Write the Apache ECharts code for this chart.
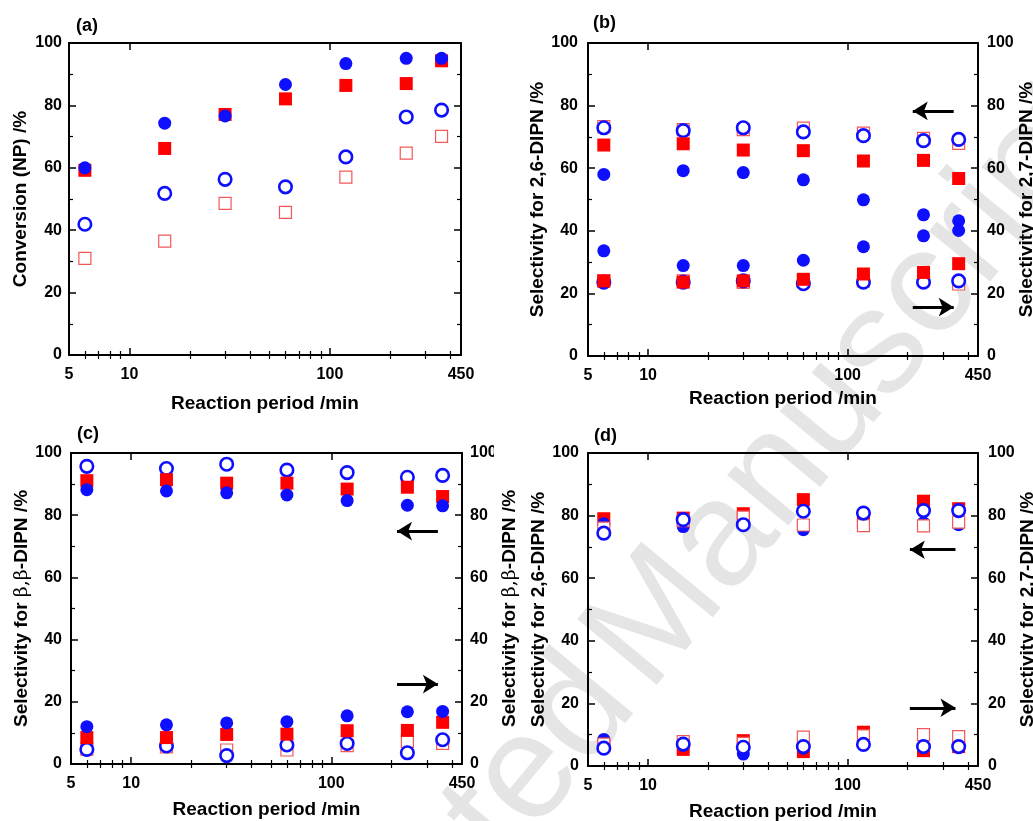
<!DOCTYPE html>
<html>
<head>
<meta charset="utf-8">
<script src="https://cdn.jsdelivr.net/npm/echarts@6/dist/echarts.min.js"></script>
<style>
html,body{margin:0;padding:0;background:#fff;}
#chart{width:1033px;height:821px;}
</style>
</head>
<body>
<div id="chart"></div>
<script>
// ---------- data ----------
const times = [6, 15, 30, 60, 120, 240, 360];           // reaction period /min
const xLabelValues = [5, 10, 100, 450];
const xMajorTicks = [10, 100];
const xMinorTicks = [6, 7, 8, 9, 20, 30, 40, 50, 60, 70, 80, 90, 200, 300, 400];

// (a) Conversion (NP) /%
const aFilledRed  = [59.2, 66.2, 77.1, 82.1, 86.4, 87.0, 94.3];
const aFilledBlue = [60.0, 74.3, 76.6, 86.7, 93.4, 95.1, 95.1];
const aOpenRed    = [31.0, 36.5, 48.6, 45.7, 57.0, 64.7, 70.1];
const aOpenBlue   = [41.9, 51.8, 56.3, 53.9, 63.5, 76.3, 78.5];

// (b) 2,6-DIPN (left axis) and 2,7-DIPN (right axis)
const b26FilledRed  = [67.4, 67.8, 65.8, 65.6, 62.3, 62.5, 56.7];
const b26FilledBlue = [58.0, 59.2, 58.6, 56.3, 49.9, 45.1, 43.2];
const b26OpenRed    = [73.3, 72.3, 72.3, 72.8, 71.2, 69.5, 67.9];
const b26OpenBlue   = [72.9, 72.0, 72.9, 71.6, 70.4, 68.8, 69.2];
const b27FilledRed  = [24.0, 23.6, 24.0, 24.5, 26.2, 26.7, 29.5];
const b27FilledBlue = [33.6, 28.9, 28.9, 30.6, 34.9, 38.4, 40.1];
const b27OpenRed    = [24.0, 24.0, 23.5, 24.0, 24.0, 24.3, 23.0];
const b27OpenBlue   = [23.6, 23.6, 24.0, 23.1, 23.6, 23.6, 24.0];

// (c) beta,beta-DIPN (left axis) and the rest (right axis)
const cBBFilledRed  = [91.1, 91.4, 90.3, 90.3, 88.4, 89.0, 86.0];
const cBBFilledBlue = [88.2, 87.8, 87.2, 86.5, 84.7, 83.2, 83.0];
const cBBOpenBlue   = [95.7, 95.0, 96.4, 94.5, 93.7, 92.2, 92.8];
const cRFilledRed   = [8.5, 8.5, 9.5, 9.6, 10.7, 10.8, 13.4];
const cRFilledBlue  = [12.0, 12.6, 13.2, 13.6, 15.5, 16.8, 16.9];
const cROpenRed     = [4.8, 5.5, 4.5, 4.5, 5.9, 7.3, 6.6];
const cROpenBlue    = [4.7, 5.8, 2.7, 6.1, 6.6, 3.6, 7.8];

// (d) 2,6-DIPN (left axis) and 2,7-DIPN (right axis)
const d26FilledRed  = [79.0, 79.2, 80.6, 85.1, 77.7, 84.6, 82.2];
const d26FilledBlue = [77.4, 76.5, 77.0, 75.5, 80.8, 77.7, 77.1];
const d26OpenRed    = [76.0, 78.4, 79.5, 77.0, 76.8, 76.7, 77.9];
const d26OpenBlue   = [74.4, 78.7, 77.1, 81.4, 80.8, 81.6, 81.6];
const d27FilledRed  = [6.5, 5.3, 8.1, 4.6, 10.8, 4.9, 6.2];
const d27FilledBlue = [8.5, 6.7, 3.8, 5.7, 6.9, 6.2, 6.2];
const d27OpenRed    = [7.0, 7.8, 7.2, 9.2, 9.6, 10.0, 9.4];
const d27OpenBlue   = [5.7, 7.0, 6.0, 6.2, 6.9, 6.2, 6.2];

// arrows: [y, fromX, toX]
const arrowsB = [[78.3, 340, 212], [15.6, 212, 340]];
const arrowsC = [[74.9, 341, 213], [25.7, 213, 341]];
const arrowsD = [[69.1, 347, 205], [18.6, 205, 347]];

// ---------- styles ----------
const FONT = '"Liberation Sans", Arial, sans-serif';
const BLACK = '#000';
const styles = {
  filledRed:  {symbol: 'rect',   symbolSize: 13, itemStyle: {color: '#ff0000', opacity: 1}},
  filledBlue: {symbol: 'circle', symbolSize: 13, itemStyle: {color: '#0f0fff', opacity: 1}},
  openRed:    {symbol: 'rect',   symbolSize: 12, itemStyle: {color: '#ffffff', borderColor: '#f25858', borderWidth: 1.2, opacity: 1}},
  openBlue:   {symbol: 'circle', symbolSize: 12.5, itemStyle: {color: '#ffffff', borderColor: '#0f0fff', borderWidth: 2.6, opacity: 1}}
};

const panels = [
  {grid: {left: 69, top: 43, width: 392, height: 312},
   xNameGap: 39, yLeftName: 'Conversion (NP) /%', yLeftGap: 39, leftMargin: 7, yRightName: null,
   series: [['openRed', aOpenRed, 0], ['openBlue', aOpenBlue, 0], ['filledRed', aFilledRed, 0], ['filledBlue', aFilledBlue, 0]],
   arrows: null},
  {grid: {left: 588, top: 43, width: 390, height: 313},
   xNameGap: 33, yLeftName: 'Selectivity for 2,6-DIPN /%', yLeftGap: 36, leftMargin: 10,
   yRightName: 'Selectivity for 2,7-DIPN /%', yRightGap: 36, rightMargin: 9,
   series: [['openRed', b26OpenRed, 0], ['openRed', b27OpenRed, 1], ['openBlue', b26OpenBlue, 0], ['openBlue', b27OpenBlue, 1],
            ['filledRed', b26FilledRed, 0], ['filledRed', b27FilledRed, 1], ['filledBlue', b26FilledBlue, 0], ['filledBlue', b27FilledBlue, 1]],
   arrows: arrowsB},
  {grid: {left: 71, top: 453, width: 391, height: 311},
   xNameGap: 36, yLeftName: 'Selectivity for {g|β,β}-DIPN /%', yLeftGap: 37, leftMargin: 9,
   yRightName: 'Selectivity for {g|β,β}-DIPN /%', yRightGap: 37, rightMargin: 8,
   series: [['openRed', cROpenRed, 1], ['openBlue', cBBOpenBlue, 0], ['openBlue', cROpenBlue, 1],
            ['filledRed', cBBFilledRed, 0], ['filledRed', cRFilledRed, 1], ['filledBlue', cBBFilledBlue, 0], ['filledBlue', cRFilledBlue, 1]],
   arrows: arrowsC},
  {grid: {left: 588, top: 453, width: 390, height: 313},
   xNameGap: 36, yLeftName: 'Selectivity for 2,6-DIPN /%', yLeftGap: 36, leftMargin: 9,
   yRightName: 'Selectivity for 2,7-DIPN /%', yRightGap: 36, rightMargin: 10,
   series: [['filledRed', d26FilledRed, 0], ['filledRed', d27FilledRed, 1], ['filledBlue', d26FilledBlue, 0], ['filledBlue', d27FilledBlue, 1],
            ['openRed', d26OpenRed, 0], ['openRed', d27OpenRed, 1], ['openBlue', d26OpenBlue, 0], ['openBlue', d27OpenBlue, 1]],
   arrows: arrowsD}
];

const axisLine = {show: true, onZero: false, lineStyle: {color: BLACK, width: 2}};
const labelStyle = {color: BLACK, fontFamily: FONT, fontWeight: 'bold', fontSize: 16};
const nameStyle = {color: BLACK, fontFamily: FONT, fontWeight: 'bold', fontSize: 19,
                   rich: {g: {fontFamily: '"DejaVu Serif", serif', fontWeight: 'normal', fontSize: 19, color: BLACK}}};

const grids = [], xAxes = [], yAxes = [], series = [];

panels.forEach((p, pi) => {
  grids.push(Object.assign({outerBoundsMode: 'none', containLabel: false}, p.grid));
  const xBase = {type: 'log', logBase: 10, min: 5, max: 450, gridIndex: pi, splitLine: {show: false}};
  const xi = xAxes.length;
  xAxes.push(Object.assign({}, xBase, {
    position: 'bottom', axisLine: axisLine,
    axisTick: {show: true, inside: true, length: 7, customValues: xMajorTicks, lineStyle: {color: BLACK, width: 1.5}},
    axisLabel: Object.assign({show: true, margin: 12, customValues: xLabelValues}, labelStyle),
    name: 'Reaction period /min', nameLocation: 'middle', nameGap: p.xNameGap, nameTextStyle: nameStyle
  }));
  xAxes.push(Object.assign({}, xBase, {
    position: 'bottom', axisLine: {show: false},
    axisTick: {show: true, inside: true, length: 4, customValues: xMinorTicks, lineStyle: {color: BLACK, width: 1.2}},
    axisLabel: {show: false}
  }));
  xAxes.push(Object.assign({}, xBase, {
    position: 'top', axisLine: axisLine,
    axisTick: {show: true, inside: true, length: 7, customValues: xMajorTicks, lineStyle: {color: BLACK, width: 1.5}},
    axisLabel: {show: false}
  }));
  xAxes.push(Object.assign({}, xBase, {
    position: 'top', axisLine: {show: false},
    axisTick: {show: true, inside: true, length: 4, customValues: xMinorTicks, lineStyle: {color: BLACK, width: 1.2}},
    axisLabel: {show: false}
  }));

  const yBase = {type: 'value', min: 0, max: 100, interval: 20, gridIndex: pi, splitLine: {show: false},
                 axisLine: axisLine,
                 axisTick: {show: true, inside: true, length: 7, lineStyle: {color: BLACK, width: 1.5}},
                 minorTick: {show: true, splitNumber: 2, length: 4, lineStyle: {color: BLACK, width: 1.2}}};
  const yi = yAxes.length;
  yAxes.push(Object.assign({}, yBase, {
    position: 'left',
    axisLabel: Object.assign({show: true, margin: p.leftMargin}, labelStyle),
    name: p.yLeftName, nameLocation: 'middle', nameRotate: 90, nameGap: p.yLeftGap, nameTextStyle: nameStyle
  }));
  yAxes.push(Object.assign({}, yBase, {
    position: 'right',
    axisLabel: Object.assign({show: !!p.yRightName, margin: p.rightMargin || 8}, labelStyle),
    name: p.yRightName || '', nameLocation: 'middle', nameRotate: 90, nameGap: p.yRightGap || 30, nameTextStyle: nameStyle
  }));

  p.series.forEach((s, si) => {
    const st = styles[s[0]];
    const ser = {
      type: 'scatter', xAxisIndex: xi, yAxisIndex: yi + s[2],
      symbol: st.symbol, symbolSize: st.symbolSize, itemStyle: st.itemStyle,
      emphasis: {disabled: true},
      data: times.map((t, k) => [t, s[1][k]]),
      silent: true, clip: false
    };
    if (si === 0 && p.arrows) {
      ser.markLine = {
        silent: true, symbol: ['none', 'arrow'], symbolSize: [14, 15],
        label: {show: false},
        lineStyle: {color: BLACK, width: 3, type: 'solid', opacity: 1},
        data: p.arrows.map(a => [{coord: [a[1], a[0]]}, {coord: [a[2], a[0]]}])
      };
    }
    series.push(ser);
  });
});

const panelLabels = [['(a)', 76, 26], ['(b)', 593, 23], ['(c)', 77, 434], ['(d)', 594, 436]];

// watermark geometry (two words along one rotated baseline)
const wmFont = '150px ' + FONT;
const wmRot = 0.88;
const wmOrigin = [192, 1182];
const measureCtx = document.createElement('canvas').getContext('2d');
measureCtx.font = wmFont;
const firstWidth = measureCtx.measureText('Accepted ').width;
const dirX = Math.cos(wmRot), dirY = -Math.sin(wmRot);
const mStart = [wmOrigin[0] + firstWidth * dirX, wmOrigin[1] + firstWidth * dirY];
const wordGap = 15;
const aEnd = [mStart[0] - wordGap * dirX, mStart[1] - wordGap * dirY];

const graphic = [
  {type: 'text', x: mStart[0], y: mStart[1], rotation: wmRot, z: -10, silent: true,
   style: {text: 'Manuscript', font: wmFont, fill: '#e5e5e5', align: 'left', verticalAlign: 'middle'}},
  {type: 'text', x: aEnd[0], y: aEnd[1], rotation: wmRot, z: -10, silent: true,
   style: {text: 'Accepted', font: wmFont, fill: '#e5e5e5', align: 'right', verticalAlign: 'middle'}},
  {type: 'rect', shape: {x: 494, y: 440, width: 30, height: 27}, z: 100, silent: true, style: {fill: '#ffffff'}}
].concat(panelLabels.map(l => ({
  type: 'text', x: l[1], y: l[2], z: 100, silent: true,
  style: {text: l[0], font: 'bold 18px ' + FONT, fill: BLACK, align: 'left', verticalAlign: 'middle'}
})));

const chart = echarts.init(document.getElementById('chart'), null, {renderer: 'canvas'});
chart.setOption({
  backgroundColor: '#ffffff',
  animation: false,
  grid: grids,
  xAxis: xAxes,
  yAxis: yAxes,
  series: series,
  graphic: graphic
});
</script>
</body>
</html>
